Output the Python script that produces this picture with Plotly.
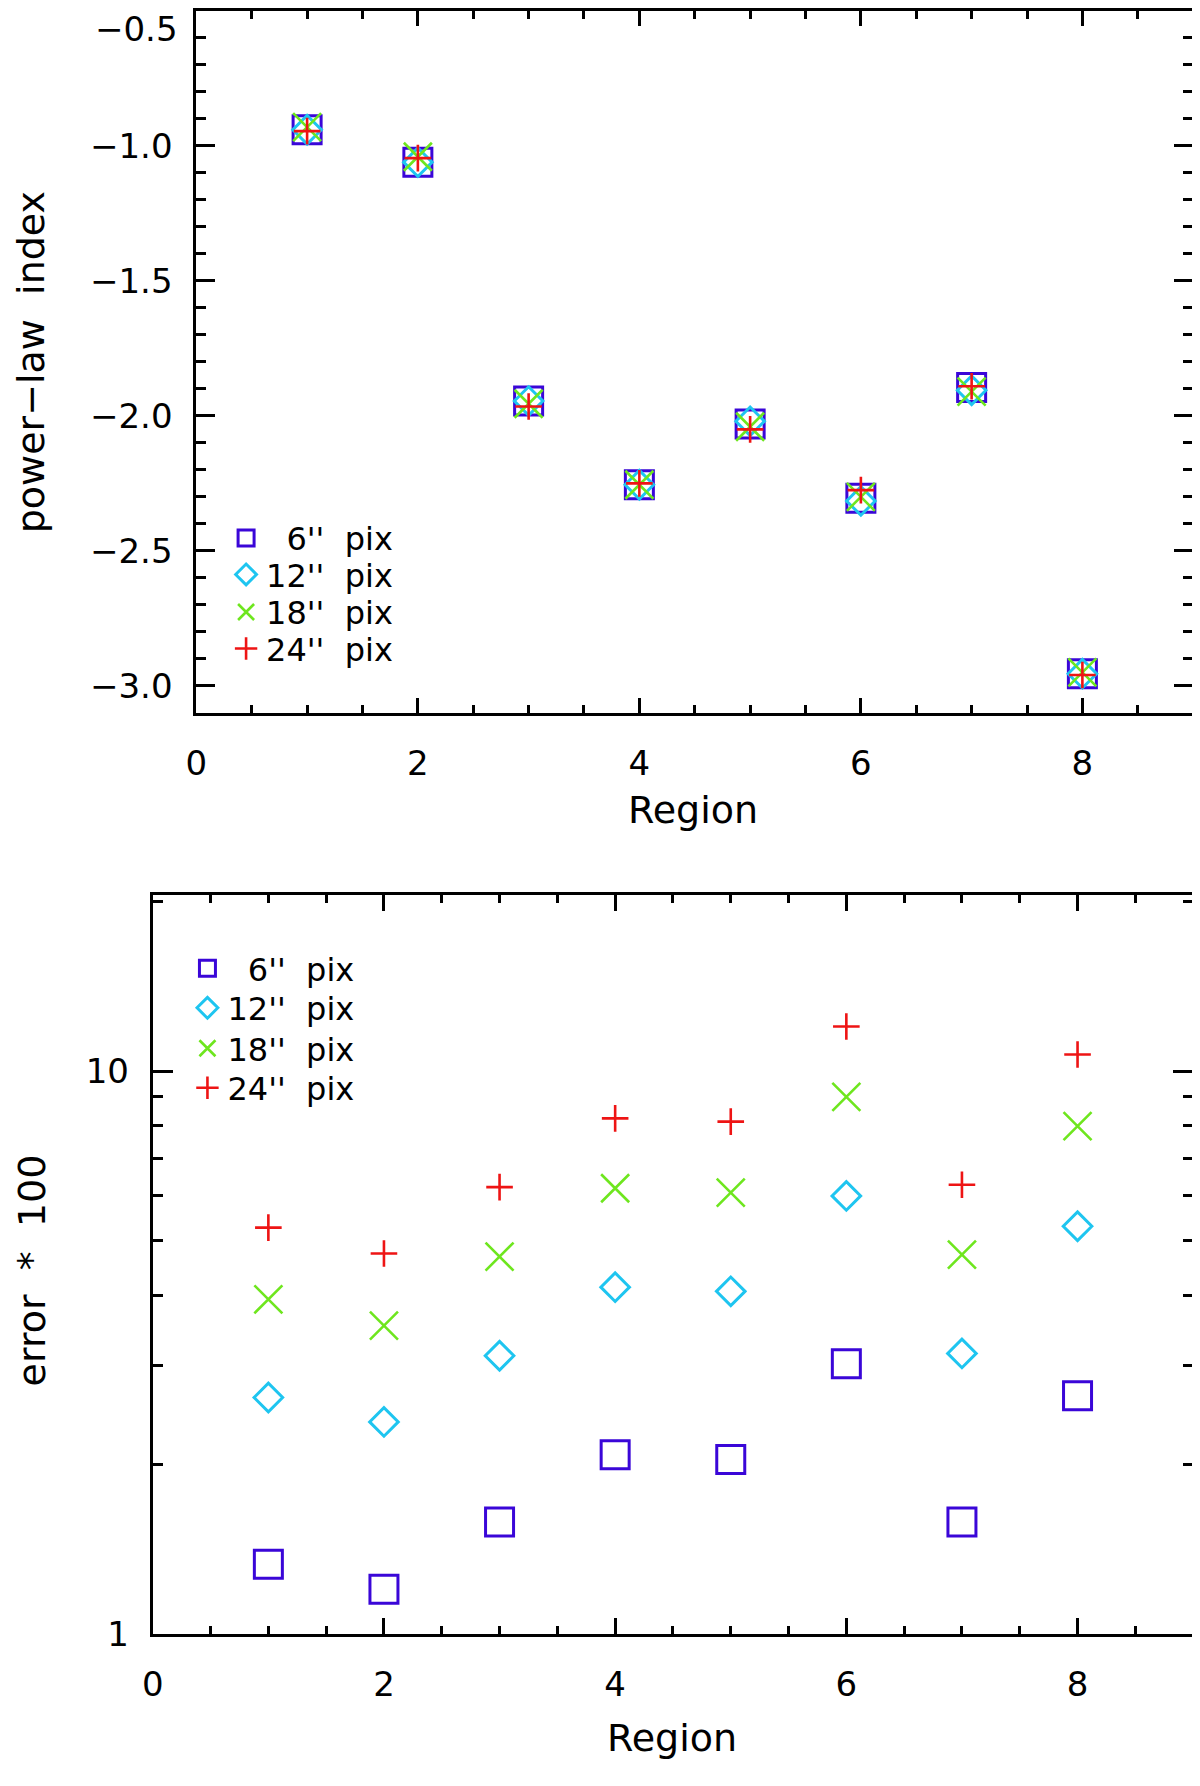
import plotly.graph_objects as go

# Regions on the x axis
regions = [1, 2, 3, 4, 5, 6, 7, 8]

# Power-law index per pixel size (top panel)
index_6 = [-0.94, -1.06, -1.945, -2.255, -2.03, -2.305, -1.895, -2.955]
index_12 = [-0.94, -1.06, -1.945, -2.255, -2.02, -2.315, -1.905, -2.955]
index_18 = [-0.93, -1.04, -1.955, -2.255, -2.04, -2.30, -1.91, -2.95]
index_24 = [-0.945, -1.045, -1.965, -2.25, -2.05, -2.275, -1.89, -2.96]

# Error * 100 per pixel size (bottom panel)
err_6 = [1.33, 1.20, 1.58, 2.08, 2.04, 3.02, 1.58, 2.65]
err_12 = [2.63, 2.38, 3.12, 4.13, 4.06, 6.0, 3.15, 5.30]
err_18 = [3.93, 3.53, 4.68, 6.19, 6.08, 9.0, 4.72, 7.98]
err_24 = [5.27, 4.74, 6.22, 8.24, 8.13, 12.0, 6.28, 10.7]

labels = ["\u00a0\u00a06''\u00a0\u00a0pix", "12''\u00a0\u00a0pix",
          "18''\u00a0\u00a0pix", "24''\u00a0\u00a0pix"]
colors = ["#3a06d8", "#1ec5f0", "#6ee61e", "#ee1414"]
symbols = ["square-open", "diamond-open", "x-thin-open", "cross-thin-open"]
sizes = [28, 22, 28, 19]
widths = [3, 3, 2.6, 2.6]

FONT = "DejaVu Sans"
W, H = 1200, 1786
OFF = 8  # page body margin shifts the whole figure by 8 px


def xp(px):
    return (px - OFF) / W


def yp(py):
    return min(1.0, 1 - (py - OFF) / H)


fig = go.Figure()

top_series = [index_6, index_12, index_18, index_24]
bot_series = [err_6, err_12, err_18, err_24]

# one legend per entry so row spacing can follow the original
top_rows = [542, 579, 617, 654]
bot_rows = [978, 1018, 1059, 1099]
legend_style = dict(font=dict(family=FONT, size=32, color="black"),
                    bgcolor="rgba(0,0,0,0)", itemclick=False,
                    itemdoubleclick=False, borderwidth=0,
                    xanchor="left", yanchor="middle")
legends = {}
top_ids = ["legend", "legend2", "legend3", "legend4"]
bot_ids = ["legend5", "legend6", "legend7", "legend8"]
for i in range(4):
    legends[top_ids[i]] = dict(legend_style, x=xp(217), y=yp(top_rows[i]))
    legends[bot_ids[i]] = dict(legend_style, x=xp(178), y=yp(bot_rows[i]))

for i in range(4):
    fig.add_trace(go.Scatter(
        x=regions, y=top_series[i], mode="markers", name=labels[i],
        xaxis="x", yaxis="y", legend=top_ids[i], showlegend=True,
        marker=dict(symbol=symbols[i], size=sizes[i], color=colors[i],
                    line=dict(color=colors[i], width=widths[i])),
    ))
for i in range(4):
    fig.add_trace(go.Scatter(
        x=regions, y=bot_series[i], mode="markers", name=labels[i],
        xaxis="x2", yaxis="y2", legend=bot_ids[i], showlegend=True,
        marker=dict(symbol=symbols[i], size=sizes[i], color=colors[i],
                    line=dict(color=colors[i], width=widths[i])),
    ))

axis_common = dict(
    showline=True, linecolor="black", linewidth=3, mirror="ticks",
    ticks="inside", tickwidth=3, tickcolor="black", showgrid=False,
    zeroline=False, tickfont=dict(family=FONT, size=34, color="black"),
)
minor_common = dict(ticks="inside", tickwidth=3, tickcolor="black")

fig.update_layout(
    showlegend=True,
    xaxis=dict(axis_common, domain=[xp(187), xp(1193)], range=[0, 9],
               tickvals=[0, 2, 4, 6, 8], ticklen=15, ticklabelstandoff=18,
               minor=dict(minor_common, dtick=0.5, ticklen=8), anchor="y"),
    yaxis=dict(axis_common, domain=[yp(719), yp(7)], range=[-3.1, -0.5],
               tickvals=[-3.0, -2.5, -2.0, -1.5, -1.0, -0.5],
               ticktext=["\u22123.0", "\u22122.5", "\u22122.0", "\u22121.5", "\u22121.0", ""],
               ticklen=19, ticklabelstandoff=14,
               minor=dict(minor_common, dtick=0.1, ticklen=10), anchor="x"),
    xaxis2=dict(axis_common, domain=[xp(143), xp(1193)], range=[0, 9],
                tickvals=[0, 2, 4, 6, 8], ticklen=16, ticklabelstandoff=18,
                minor=dict(minor_common, dtick=0.5, ticklen=8), anchor="y2"),
    yaxis2=dict(axis_common, type="log", domain=[yp(1652), yp(904)],
                range=[0, 1.312], tickvals=[1, 10], ticktext=["1", "10"],
                ticklen=20, ticklabelstandoff=14,
                minor=dict(minor_common, tickvals=[2, 3, 4, 5, 6, 7, 8, 9, 20],
                           ticklen=10),
                anchor="x2"),
    width=W, height=H,
    margin=dict(l=0, r=0, t=0, b=0),
    paper_bgcolor="white", plot_bgcolor="white",
    font=dict(family=FONT, color="black"),
    **legends,
)

title_font = dict(family=FONT, size=38, color="black")
fig.add_annotation(text="\u22120.5", xref="paper", yref="paper",
                   x=xp(170), y=yp(26), xanchor="right", yanchor="middle",
                   showarrow=False, font=dict(family=FONT, size=34, color="black"))
fig.add_annotation(text="power\u2212law\u00a0\u00a0index", xref="paper", yref="paper",
                   x=xp(21), y=yp(364), textangle=-90, showarrow=False,
                   xanchor="center", yanchor="middle", font=title_font)
fig.add_annotation(text="Region", xref="paper", yref="paper",
                   x=xp(688), y=yp(817), showarrow=False,
                   xanchor="center", yanchor="middle", font=title_font)
fig.add_annotation(text="error\u00a0\u00a0*\u00a0\u00a0100", xref="paper", yref="paper",
                   x=xp(21), y=yp(1284), textangle=-90, showarrow=False,
                   xanchor="center", yanchor="middle", font=title_font)
fig.add_annotation(text="Region", xref="paper", yref="paper",
                   x=xp(667), y=yp(1758), showarrow=False,
                   xanchor="center", yanchor="middle", font=title_font)

fig.write_html("out.html")
